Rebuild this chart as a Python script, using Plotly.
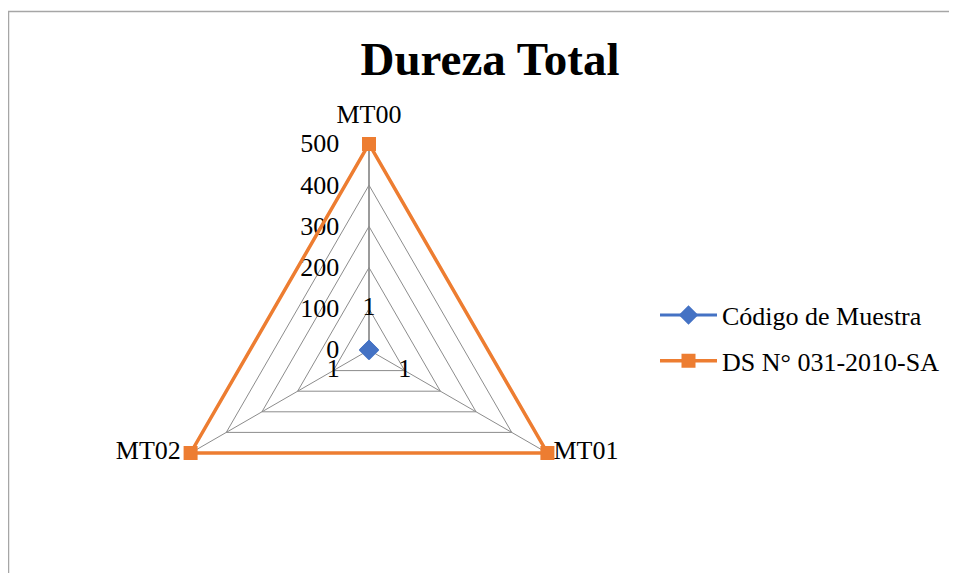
import plotly.graph_objects as go

# --- datos ---
categorias = ["MT00", "MT01", "MT02"]
codigo_muestra = [1, 1, 1]
ds_031 = [500, 500, 500]
radial_ticks = [0, 100, 200, 300, 400, 500]

W, H = 957, 581
OFF = 8  # margen del <body> de la página
FW, FH = W - 2 * OFF, H - 2 * OFF  # tamaño de la figura sin barras de desplazamiento
FONT = "Liberation Serif, Times New Roman, serif"
AZUL = "#4472C4"
NARANJA = "#ED7D31"
GRIS = "#8c8c8c"
LABEL_R = 100   # distancia de las etiquetas de datos (en unidades del eje)
R_MAX = 500
R_RANGE = 512   # un poco más que 500 para que la línea naranja no se recorte
R_PX = 206 * R_RANGE / R_MAX
CX, CY = 369, 350  # centro del radar en la imagen


def px_x(x):
    return (x - OFF) / FW


def px_y(y):
    return 1 - (y - OFF) / FH


fig = go.Figure()

fig.add_trace(go.Scatterpolar(
    r=codigo_muestra + codigo_muestra[:1],
    theta=categorias + categorias[:1],
    mode="lines+markers",
    name="Código de Muestra",
    line=dict(color=AZUL, width=3),
    marker=dict(symbol="diamond", size=15, color=AZUL),
    legendgroup="a",
    cliponaxis=False,
))

fig.add_trace(go.Scatterpolar(
    r=ds_031 + ds_031[:1],
    theta=categorias + categorias[:1],
    mode="lines+markers",
    name="DS N° 031-2010-SA",
    line=dict(color=NARANJA, width=3.5),
    marker=dict(symbol="square", size=14, color=NARANJA),
    legendgroup="b",
    cliponaxis=False,
))

# etiquetas de datos de la serie "Código de Muestra"
fig.add_trace(go.Scatterpolar(
    r=[LABEL_R] * len(categorias),
    theta=categorias,
    mode="text",
    text=[str(v) for v in codigo_muestra],
    textposition="middle center",
    textfont=dict(family=FONT, size=26, color="black"),
    showlegend=False,
    hoverinfo="skip",
    cliponaxis=False,
))

# etiquetas de categoría (como en Excel, pegadas a los vértices)
fig.add_trace(go.Scatterpolar(
    r=[R_MAX] * len(categorias),
    theta=categorias,
    mode="markers+text",
    marker=dict(size=[22, 8, 14], opacity=0),
    text=categorias,
    textposition=["top center", "middle right", "middle left"],
    textfont=dict(family=FONT, size=26, color="black"),
    showlegend=False,
    hoverinfo="skip",
    cliponaxis=False,
))

fig.update_layout(
    width=FW, height=FH,
    margin=dict(l=0, r=0, t=0, b=0),
    paper_bgcolor="white",
    font=dict(family=FONT, size=26, color="black"),
    title=dict(
        text="<b>Dureza Total</b>",
        font=dict(family=FONT, size=47, color="black"),
        x=px_x(490), xanchor="center",
        y=px_y(59), yanchor="middle",
    ),
    polar=dict(
        domain=dict(x=[px_x(CX - R_PX), px_x(CX + R_PX)],
                    y=[px_y(CY + R_PX), px_y(CY - R_PX)]),
        bgcolor="white",
        gridshape="linear",
        radialaxis=dict(
            range=[0, R_RANGE],
            tickvals=radial_ticks,
            angle=90,
            tickangle=90,
            side="counterclockwise",
            showline=True,
            linecolor=GRIS,
            linewidth=1.5,
            gridcolor=GRIS,
            gridwidth=1,
            ticks="outside",
            ticklen=20,
            tickcolor="rgba(0,0,0,0)",
            tickfont=dict(family=FONT, size=26, color="black"),
            layer="below traces",
        ),
        angularaxis=dict(
            rotation=90,
            direction="clockwise",
            showline=False,
            gridcolor=GRIS,
            gridwidth=1,
            ticks="",
            showticklabels=False,
            layer="below traces",
        ),
    ),
    showlegend=True,
    legend=dict(
        x=px_x(655), xanchor="left",
        y=px_y(338), yanchor="middle",
        traceorder="grouped",
        tracegroupgap=9,
        itemwidth=57,
        font=dict(family=FONT, size=26, color="black"),
        bgcolor="rgba(0,0,0,0)",
    ),
    shapes=[dict(
        type="rect", xref="paper", yref="paper",
        x0=px_x(8.5), x1=1.05, y0=-0.05, y1=px_y(11.5),
        line=dict(color="#a6a6a6", width=1.5),
        fillcolor="rgba(0,0,0,0)",
    )],
)

fig.write_html("out.html")
